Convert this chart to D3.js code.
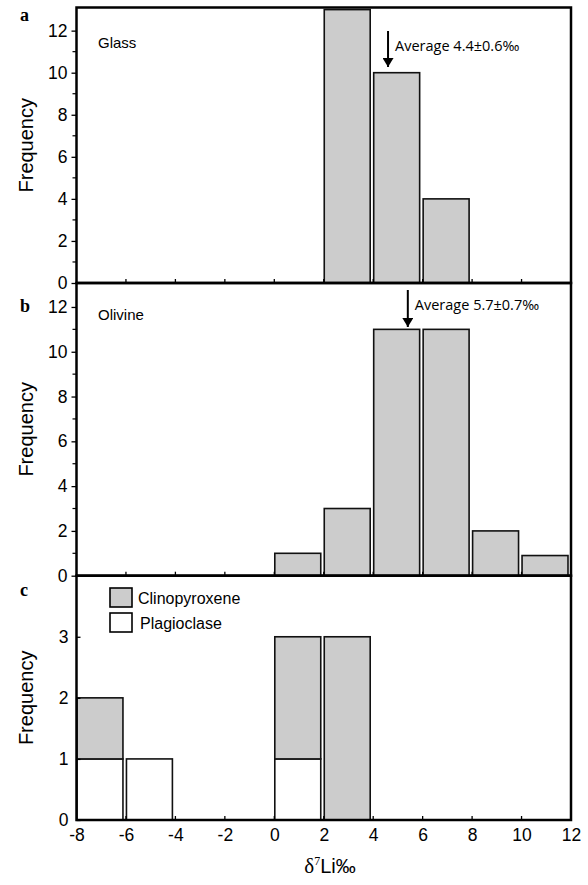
<!DOCTYPE html>
<html><head><meta charset="utf-8">
<script src="https://cdn.jsdelivr.net/npm/d3@7"></script>
<style>body{margin:0;background:#fff}svg{display:block}</style>
</head><body><svg id="c" width="588" height="885"></svg>
<script>
// Data
const binStarts = [-8,-6,-4,-2,0,2,4,6,8,10];
const glassFreq   = [0,0,0,0,0,13,10,4,0,0];
const olivineFreq = [0,0,0,0,1,3,11,11,2,0.9];
const plagFreq    = [1,1,0,0,1,0,0,0,0,0];
const cpxFreq     = [1,0,0,0,2,3,0,0,0,0];
const xTicks = [-8,-6,-4,-2,0,2,4,6,8,10,12];
const yTicksAB = [0,2,4,6,8,10,12];
const yTicksC = [0,1,2,3];
const glassAvg = 4.6, olivineAvg = 5.4;
const binWidth = 2;

const svg = d3.select("#c");
const L = 76.5, R = 571;
const x = d3.scaleLinear().domain([-8,12]).range([L,R]);
const fill = "#cccccc";
const sans = "'Liberation Sans', Arial, sans-serif";
const fmt = d => String(d);

const panels = [
  {key:"a", top:7.5, bottom:283, dom:[0,13.1], ticks:yTicksAB, minor:true, label:"Glass"},
  {key:"b", top:283, bottom:575.7, dom:[0,13.07], ticks:yTicksAB, minor:true, label:"Olivine"},
  {key:"c", top:575.7, bottom:820, dom:[0,4], ticks:yTicksC, minor:false}
];
panels.forEach(p => { p.y = d3.scaleLinear().domain(p.dom).range([p.bottom, p.top]); });

function bars(g, y, starts, lo, hi, color) {
  g.selectAll(null).data(starts.map((s,i)=>({s, lo:lo[i], hi:hi[i]})).filter(d=>d.hi>d.lo))
    .enter().append("rect")
    .attr("x", d=>x(d.s)+0.5)
    .attr("width", d=>x(d.s+binWidth)-x(d.s)-3.5)
    .attr("y", d=>y(d.hi))
    .attr("height", d=>y(d.lo)-y(d.hi))
    .attr("fill", color).attr("stroke","#111").attr("stroke-width",1.6);
}

const zeros = binStarts.map(()=>0);
bars(svg.append("g"), panels[0].y, binStarts, zeros, glassFreq, fill);
bars(svg.append("g"), panels[1].y, binStarts, zeros, olivineFreq, fill);
bars(svg.append("g"), panels[2].y, binStarts, zeros, plagFreq, "#fff");
bars(svg.append("g"), panels[2].y, binStarts, plagFreq, plagFreq.map((v,i)=>v+cpxFreq[i]), fill);

panels.forEach((p,pi) => {
  const g = svg.append("g");
  const yAxis = d3.axisLeft(p.y).tickValues(p.ticks).tickFormat(fmt)
    .tickSize(pi===2 ? -4 : 5).tickPadding(pi===2 ? 8 : 4);
  const ga = g.append("g").attr("transform",`translate(${L},0)`).call(yAxis);
  ga.select(".domain").remove();
  ga.selectAll("line").attr("stroke","#000").attr("stroke-width",1.3);
  ga.selectAll("text").attr("font-family",sans).attr("font-size",17.5).attr("fill","#000");
  if (p.minor) {
    g.selectAll(null).data(d3.range(1,13,2)).enter().append("line")
      .attr("x1",L-4).attr("x2",L).attr("y1",d=>p.y(d)).attr("y2",d=>p.y(d))
      .attr("stroke","#000").attr("stroke-width",1.2);
  }
  g.selectAll(null).data(xTicks.slice(1,-1)).enter().append("line")
    .attr("x1",d=>x(d)).attr("x2",d=>x(d)).attr("y1",p.bottom).attr("y2",p.bottom-4)
    .attr("stroke","#000").attr("stroke-width",1.3);
  g.append("rect").attr("x",L).attr("y",p.top).attr("width",R-L).attr("height",p.bottom-p.top)
    .attr("fill","none").attr("stroke","#000").attr("stroke-width",2.5);
  g.append("text").attr("x",20).attr("y",p.top+(pi===0?13:(pi===1?29:20)))
    .attr("font-family","'Liberation Serif', 'Times New Roman', serif").attr("font-weight","bold")
    .attr("font-size",18).text(p.key);
  g.append("text").attr("transform",`translate(33,${(p.top+p.bottom)/2}) rotate(-90)`)
    .attr("text-anchor","middle").attr("font-family",sans).attr("font-size",20).text("Frequency");
  if (p.label) {
    g.append("text").attr("x",98).attr("y",p.top+(pi===0?40:37)).attr("font-family",sans)
      .attr("font-size",15).text(p.label);
  }
});

const gx = svg.append("g").attr("transform",`translate(0,${panels[2].bottom})`)
  .call(d3.axisBottom(x).tickValues(xTicks).tickSize(0).tickPadding(9).tickFormat(fmt));
gx.select(".domain").remove();
gx.selectAll("text").attr("font-family",sans).attr("font-size",17.5).attr("fill","#000");

svg.append("text").attr("x",330).attr("y",873).attr("text-anchor","middle")
  .attr("font-family","'Liberation Serif', 'Times New Roman', serif").attr("font-size",21)
  .html("δ<tspan font-size='12' dy='-8'>7</tspan><tspan dy='8' font-family=\"'Liberation Sans', Arial, sans-serif\" font-size='20'>Li‰</tspan>");

svg.append("defs").append("marker").attr("id","ah").attr("viewBox","0 0 10 10")
  .attr("refX",10).attr("refY",5).attr("markerWidth",4.5).attr("markerHeight",5.5)
  .attr("preserveAspectRatio","none")
  .attr("orient","auto").attr("markerUnits","strokeWidth")
  .append("path").attr("d","M0,0 L10,5 L0,10 Z").attr("fill","#000");

function avgArrow(val, y1, y2, txt, ty) {
  svg.append("line").attr("x1",x(val)).attr("x2",x(val)).attr("y1",y1).attr("y2",y2)
    .attr("stroke","#000").attr("stroke-width",2).attr("marker-end","url(#ah)");
  svg.append("text").attr("x",x(val)+7).attr("y",ty).attr("font-family","'Open Sans', sans-serif")
    .attr("font-size",14.5).text(txt);
}
avgArrow(glassAvg, 31, 67, "Average 4.4±0.6‰", 51);
avgArrow(olivineAvg, 290, 327, "Average 5.7±0.7‰", 310);

const leg = [{t:"Clinopyroxene", c:fill},{t:"Plagioclase", c:"#fff"}];
const lg = svg.append("g");
lg.selectAll("rect").data(leg).enter().append("rect")
  .attr("x",110).attr("y",(d,i)=>588+i*25).attr("width",22).attr("height",19)
  .attr("fill",d=>d.c).attr("stroke","#000").attr("stroke-width",1.6);
lg.selectAll("text").data(leg).enter().append("text")
  .attr("x",(d,i)=>138+i*2).attr("y",(d,i)=>604+i*25).attr("font-family",sans)
  .attr("font-size",16).text(d=>d.t);
</script></body></html>
